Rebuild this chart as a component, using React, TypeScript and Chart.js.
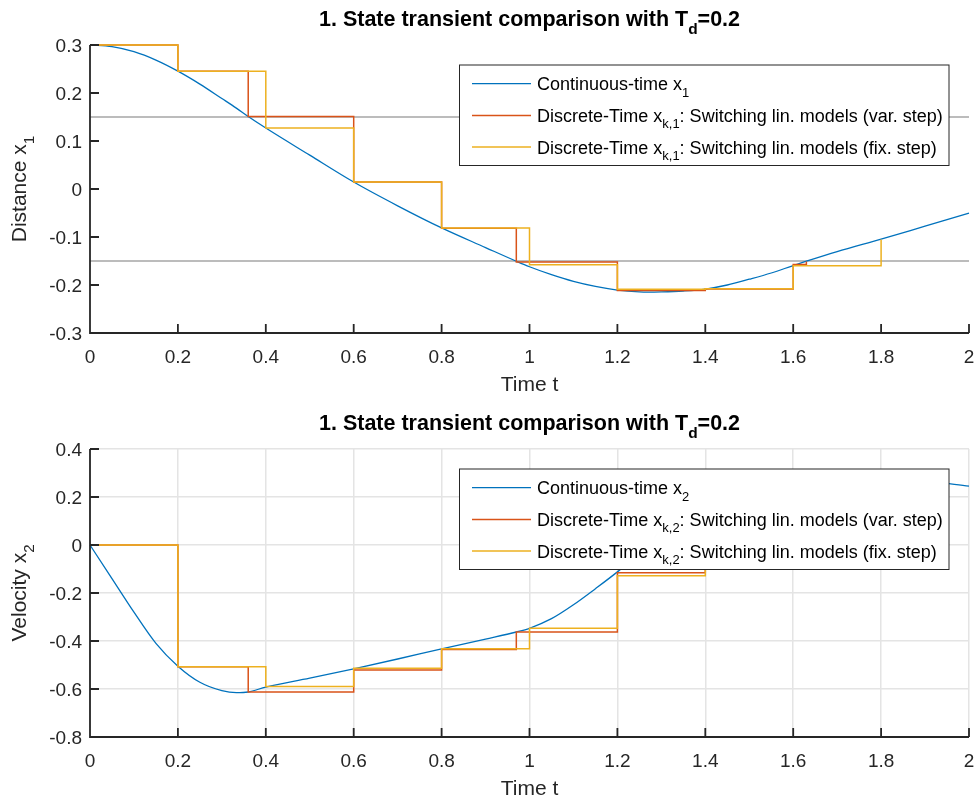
import React, { useEffect, useRef } from "react";
import { Chart, registerables } from "chart.js";

Chart.register(...registerables);

// Continuous-time reference solution (time grid, position, velocity)
const tCont = [
  0, 0.05, 0.1, 0.15, 0.2, 0.25, 0.3, 0.333, 0.36, 0.4, 0.5, 0.6, 0.7, 0.8, 0.9,
  0.97, 1.0, 1.05, 1.1, 1.15, 1.2, 1.25, 1.27, 1.3, 1.35, 1.4, 1.45, 1.5, 1.55,
  1.6, 1.63, 1.7, 1.8, 1.9, 2.0,
];
const x1Cont = [
  0.3, 0.2965, 0.286, 0.2685, 0.2455, 0.2185, 0.1885, 0.1685, 0.151, 0.127,
  0.0705, 0.0145, -0.035, -0.081, -0.122, -0.1505, -0.162, -0.1785, -0.1925,
  -0.203, -0.2105, -0.2145, -0.215, -0.2145, -0.2125, -0.2085, -0.2, -0.188,
  -0.175, -0.1595, -0.1505, -0.1305, -0.1045, -0.0775, -0.0505,
];
const x2Cont = [
  0, -0.14, -0.28, -0.41, -0.505, -0.572, -0.607, -0.6155, -0.6125, -0.592,
  -0.555, -0.516, -0.475, -0.433, -0.392, -0.3625, -0.347, -0.307, -0.249, -0.182,
  -0.112, -0.035, 0, 0.035, 0.09, 0.145, 0.2, 0.245, 0.275, 0.292, 0.3, 0.295,
  0.285, 0.267, 0.245,
];

// Switching linear models, variable step (extra samples at switching instants)
const tVar = [0, 0.2, 0.36, 0.6, 0.8, 0.97, 1.2, 1.4, 1.6, 1.63];
const x1Var = [0.3, 0.2455, 0.151, 0.0145, -0.082, -0.152, -0.2115, -0.2085, -0.1575, -0.151];
const x2Var = [0, -0.507, -0.6125, -0.521, -0.435, -0.3625, -0.116, 0.145, 0.29, 0.3];

// Switching linear models, fixed step T_d = 0.2
const tFix = [0, 0.2, 0.4, 0.6, 0.8, 1.0, 1.2, 1.4, 1.6, 1.8];
const x1Fix = [0.3, 0.2455, 0.127, 0.0145, -0.0815, -0.158, -0.209, -0.2078, -0.16, -0.105];
const x2Fix = [0, -0.507, -0.59, -0.514, -0.432, -0.347, -0.128, 0.145, 0.29, 0.285];

// Position thresholds where the linear model is switched
const switchLevels = [0.15, -0.15];

const timeTicks = [0, 0.2, 0.4, 0.6, 0.8, 1, 1.2, 1.4, 1.6, 1.8, 2];
const timeTickLabels = ["0", "0.2", "0.4", "0.6", "0.8", "1", "1.2", "1.4", "1.6", "1.8", "2"];
const distTicks = [0.3, 0.2, 0.1, 0, -0.1, -0.2, -0.3];
const distTickLabels = ["0.3", "0.2", "0.1", "0", "-0.1", "-0.2", "-0.3"];
const velTicks = [0.4, 0.2, 0, -0.2, -0.4, -0.6, -0.8];
const velTickLabels = ["0.4", "0.2", "0", "-0.2", "-0.4", "-0.6", "-0.8"];

const BLUE = "#0072BD";
const RED = "#D95319";
const YELLOW = "#EDB120";
const AXIS = "#262626";
const GRID = "#e4e4e4";
const LEVEL = "#a6a6a6";
const FONT = '"Liberation Sans", Arial, Helvetica, sans-serif';

const W = 979;
const H = 399;

type Seg = { t: string; sub?: boolean };

interface Panel {
  top: number;
  bottom: number;
  yMin: number;
  yMax: number;
  yTicks: number[];
  yTickLabels: string[];
  yLabel: Seg[];
  legend: Seg[][];
  grid: boolean;
  levels: number[];
  cont: number[];
  vr: number[];
  fx: number[];
}

const titleSegs: Seg[] = [
  { t: "1. State transient comparison with T" },
  { t: "d", sub: true },
  { t: "=0.2" },
];

const panels: Panel[] = [
  {
    top: 45,
    bottom: 333,
    yMin: -0.3,
    yMax: 0.3,
    yTicks: distTicks,
    yTickLabels: distTickLabels,
    yLabel: [{ t: "Distance x" }, { t: "1", sub: true }],
    legend: [
      [{ t: "Continuous-time x" }, { t: "1", sub: true }],
      [{ t: "Discrete-Time x" }, { t: "k,1", sub: true }, { t: ": Switching lin. models (var. step)" }],
      [{ t: "Discrete-Time x" }, { t: "k,1", sub: true }, { t: ": Switching lin. models (fix. step)" }],
    ],
    grid: false,
    levels: switchLevels,
    cont: x1Cont,
    vr: x1Var,
    fx: x1Fix,
  },
  {
    top: 50,
    bottom: 338,
    yMin: -0.8,
    yMax: 0.4,
    yTicks: velTicks,
    yTickLabels: velTickLabels,
    yLabel: [{ t: "Velocity x" }, { t: "2", sub: true }],
    legend: [
      [{ t: "Continuous-time x" }, { t: "2", sub: true }],
      [{ t: "Discrete-Time x" }, { t: "k,2", sub: true }, { t: ": Switching lin. models (var. step)" }],
      [{ t: "Discrete-Time x" }, { t: "k,2", sub: true }, { t: ": Switching lin. models (fix. step)" }],
    ],
    grid: true,
    levels: [],
    cont: x2Cont,
    vr: x2Var,
    fx: x2Fix,
  },
];

function richWidth(ctx: CanvasRenderingContext2D, segs: Seg[], size: number, bold: boolean) {
  const b = bold ? "bold " : "";
  let w = 0;
  for (const s of segs) {
    ctx.font = `${b}${s.sub ? size * 0.72 : size}px ${FONT}`;
    w += ctx.measureText(s.t).width;
  }
  return w;
}

function drawRich(
  ctx: CanvasRenderingContext2D,
  segs: Seg[],
  x: number,
  y: number,
  size: number,
  bold: boolean,
  center: boolean
) {
  const b = bold ? "bold " : "";
  let cx = center ? x - richWidth(ctx, segs, size, bold) / 2 : x;
  ctx.textAlign = "left";
  ctx.textBaseline = "alphabetic";
  for (const s of segs) {
    ctx.font = `${b}${s.sub ? size * 0.72 : size}px ${FONT}`;
    ctx.fillText(s.t, cx, s.sub ? y + size * 0.36 : y);
    cx += ctx.measureText(s.t).width;
  }
}

function makeDecor(p: Panel) {
  return {
    id: "panelDecor",
    beforeDatasetsDraw(chart: any) {
      const { ctx, chartArea: a, scales } = chart;
      ctx.save();
      ctx.strokeStyle = LEVEL;
      ctx.lineWidth = 1.5;
      for (const lv of p.levels) {
        const y = scales.y.getPixelForValue(lv);
        ctx.beginPath();
        ctx.moveTo(a.left, y);
        ctx.lineTo(a.right, y);
        ctx.stroke();
      }
      ctx.restore();
    },
    afterDatasetsDraw(chart: any) {
      const { ctx, chartArea: a, scales } = chart;
      const xs = scales.x;
      const ys = scales.y;
      ctx.save();

      // axis lines and inward tick marks
      ctx.strokeStyle = AXIS;
      ctx.lineWidth = 1.8;
      ctx.beginPath();
      ctx.moveTo(a.left, a.top);
      ctx.lineTo(a.left, a.bottom);
      ctx.lineTo(a.right, a.bottom);
      for (const v of timeTicks) {
        const x = xs.getPixelForValue(v);
        ctx.moveTo(x, a.bottom);
        ctx.lineTo(x, a.bottom - 9);
      }
      for (const v of p.yTicks) {
        const y = ys.getPixelForValue(v);
        ctx.moveTo(a.left, y);
        ctx.lineTo(a.left + 9, y);
      }
      ctx.stroke();

      // tick labels
      ctx.fillStyle = AXIS;
      ctx.font = `19px ${FONT}`;
      ctx.textBaseline = "alphabetic";
      ctx.textAlign = "center";
      timeTicks.forEach((v, i) => {
        ctx.fillText(timeTickLabels[i], xs.getPixelForValue(v), a.bottom + 30);
      });
      ctx.textAlign = "right";
      p.yTicks.forEach((v, i) => {
        ctx.fillText(p.yTickLabels[i], a.left - 8, ys.getPixelForValue(v) + 7);
      });

      // axis labels
      const cxPlot = (a.left + a.right) / 2;
      drawRich(ctx, [{ t: "Time t" }], cxPlot, a.bottom + 58, 21, false, true);
      ctx.save();
      ctx.translate(26, (a.top + a.bottom) / 2);
      ctx.rotate(-Math.PI / 2);
      drawRich(ctx, p.yLabel, 0, 0, 21, false, true);
      ctx.restore();

      // title
      ctx.fillStyle = "#000";
      drawRich(ctx, titleSegs, cxPlot, a.top - 19, 21.5, true, true);

      // legend box
      const bx = 459.5;
      const by = a.top + 20;
      const bw = 489.5;
      const bh = 100.5;
      ctx.fillStyle = "#fff";
      ctx.fillRect(bx, by, bw, bh);
      ctx.strokeStyle = AXIS;
      ctx.lineWidth = 1;
      ctx.strokeRect(bx, by, bw, bh);
      const colors = [BLUE, RED, YELLOW];
      const widths = [1.3, 1.5, 1.5];
      p.legend.forEach((segs, i) => {
        const y = by + 18.7 + i * 31.7;
        ctx.strokeStyle = colors[i];
        ctx.lineWidth = widths[i];
        ctx.beginPath();
        ctx.moveTo(472, y);
        ctx.lineTo(531, y);
        ctx.stroke();
        ctx.fillStyle = "#000";
        drawRich(ctx, segs, 537, y + 6.5, 18, false, false);
      });

      ctx.restore();
    },
  };
}

function pts(t: number[], v: number[]) {
  return t.map((x, i) => ({ x, y: v[i] }));
}

function PanelChart({ p }: { p: Panel }) {
  const ref = useRef<HTMLCanvasElement | null>(null);
  useEffect(() => {
    if (!ref.current) return;
    const chart = new Chart(ref.current, {
      type: "line",
      data: {
        datasets: [
          {
            data: pts(tCont, p.cont),
            borderColor: BLUE,
            borderWidth: 1.3,
            pointRadius: 0,
            cubicInterpolationMode: "monotone",
            fill: false,
            clip: 4,
            order: 3,
          },
          {
            data: pts(tVar, p.vr),
            borderColor: RED,
            borderWidth: 1.5,
            pointRadius: 0,
            stepped: "before",
            fill: false,
            clip: 4,
            order: 2,
          },
          {
            data: pts(tFix, p.fx),
            borderColor: YELLOW,
            borderWidth: 1.5,
            pointRadius: 0,
            stepped: "before",
            fill: false,
            clip: 4,
            order: 1,
          },
        ],
      },
      options: {
        animation: false,
        responsive: false,
        devicePixelRatio: 1,
        events: [],
        layout: { padding: { left: 90, right: W - 969, top: p.top, bottom: H - p.bottom } },
        plugins: {
          legend: { display: false },
          tooltip: { enabled: false },
          title: { display: false },
        },
        scales: {
          x: {
            type: "linear",
            min: 0,
            max: 2,
            afterBuildTicks: (s: any) => {
              s.ticks = timeTicks.map((v) => ({ value: v }));
            },
            afterFit: (s: any) => {
              s.height = 0;
            },
            ticks: { display: false },
            border: { display: false },
            grid: { display: p.grid, drawTicks: false, color: GRID, lineWidth: 1.5 },
          },
          y: {
            type: "linear",
            min: p.yMin,
            max: p.yMax,
            afterBuildTicks: (s: any) => {
              s.ticks = p.yTicks.map((v) => ({ value: v }));
            },
            afterFit: (s: any) => {
              s.width = 0;
            },
            ticks: { display: false },
            border: { display: false },
            grid: { display: p.grid, drawTicks: false, color: GRID, lineWidth: 1.5 },
          },
        },
      },
      plugins: [makeDecor(p)],
    } as any);
    return () => chart.destroy();
  }, [p]);
  return <canvas ref={ref} width={W} height={H} style={{ display: "block" }} />;
}

export default function App() {
  return (
    <div
      style={{
        position: "absolute",
        left: 0,
        top: 0,
        width: W,
        height: 2 * H,
        background: "#fff",
      }}
    >
      <PanelChart p={panels[0]} />
      <PanelChart p={panels[1]} />
    </div>
  );
}
